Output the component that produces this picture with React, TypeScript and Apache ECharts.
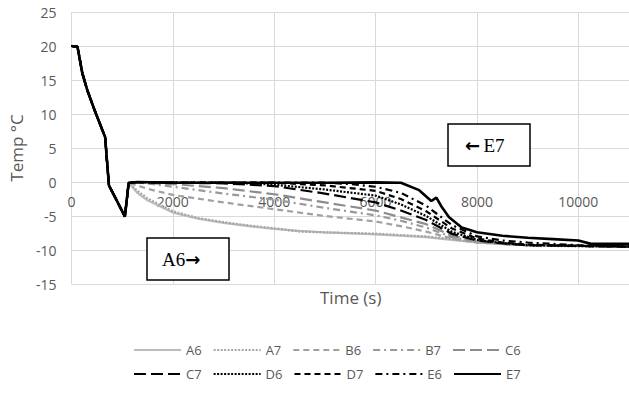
import React, { useEffect, useRef } from "react";
import * as echarts from "echarts";

// Common cooling phase (all locations overlap)
const coolTime = [0, 120, 215, 313, 450, 560, 665, 740, 900, 1055, 1130];
const coolTemp = [20, 19.9, 16, 13.5, 10.7, 8.6, 6.6, -0.5, -2.8, -5.1, -0.1];

const seriesNames = ["A6", "A7", "B6", "B7", "C6", "C7", "D6", "D7", "E6", "E7"];
const xTicks = [0, 2000, 4000, 6000, 8000, 10000];

const A6t = [1300, 1500, 2000, 2500, 3000, 3500, 4000, 4500, 5000, 6000, 7000, 7500, 8000, 8500, 9000, 10000, 11000];
const A6v = [-1.6, -2.7, -4.5, -5.4, -6.0, -6.5, -6.9, -7.2, -7.4, -7.7, -8.1, -8.5, -8.9, -9.1, -9.3, -9.4, -9.5];
const A7t = [1300, 1500, 2000, 2500, 3000, 3500, 4000, 4500, 5000, 6000, 7000, 7500, 8000, 8500, 9000, 10000, 11000];
const A7v = [-1.3, -2.4, -4.3, -5.3, -5.9, -6.4, -6.8, -7.3, -7.4, -7.6, -8.0, -8.4, -8.9, -9.1, -9.3, -9.5, -9.5];
const B6t = [1300, 1500, 2000, 3000, 4000, 5000, 6000, 6500, 7000, 7500, 8000, 8500, 9000, 10000, 11000];
const B6v = [-0.5, -1.0, -1.9, -3.0, -4.0, -5.0, -5.8, -6.5, -7.3, -8.3, -8.9, -9.1, -9.3, -9.4, -9.5];
const B7t = [1300, 1500, 2000, 3000, 4000, 5000, 6000, 6500, 7000, 7500, 8000, 8500, 9000, 10000, 11000];
const B7v = [-0.1, -0.2, -0.7, -1.7, -2.6, -3.8, -4.9, -5.7, -6.7, -8.1, -8.8, -9.1, -9.3, -9.4, -9.5];
const C6t = [1300, 2000, 3000, 4000, 5000, 6000, 6500, 7000, 7500, 8000, 8500, 9000, 10000, 11000];
const C6v = [-0.1, -0.3, -0.9, -1.8, -3.0, -4.2, -5.2, -6.2, -7.9, -8.7, -9.1, -9.3, -9.4, -9.5];
const C7t = [1300, 2000, 3000, 4000, 5000, 6000, 6500, 7000, 7500, 8000, 8500, 9000, 10000, 11000];
const C7v = [0, -0.1, -0.2, -0.6, -1.7, -3.0, -4.2, -5.6, -7.6, -8.6, -9.0, -9.3, -9.4, -9.5];
const D6t = [1300, 2000, 3000, 3500, 4000, 5000, 6000, 6500, 7000, 7500, 8000, 8500, 9000, 10000, 11000];
const D6v = [0, -0.1, -0.1, -0.2, -0.4, -1.1, -2.0, -3.3, -5.0, -7.3, -8.5, -9.0, -9.3, -9.4, -9.5];
const D7t = [1300, 2000, 3000, 4000, 4500, 5000, 6000, 6500, 7000, 7500, 8000, 8500, 9000, 10000, 11000];
const D7v = [0, -0.1, -0.1, -0.1, -0.3, -0.5, -1.3, -2.5, -4.3, -6.8, -8.3, -8.9, -9.2, -9.4, -9.5];
const E6t = [1300, 2000, 3000, 4000, 5000, 5500, 6000, 6500, 7000, 7500, 8000, 8500, 9000, 10000, 11000];
const E6v = [0, -0.1, -0.1, -0.1, -0.1, -0.3, -0.7, -1.6, -3.5, -6.3, -8.0, -8.6, -8.9, -9.3, -9.4];
const E7t = [1300, 2000, 3000, 4000, 5000, 6000, 6500, 6860, 7100, 7200, 7300, 7450, 7700, 8000, 8500, 9000, 9500, 10000, 10250, 11000];
const E7v = [0, -0.1, -0.1, -0.1, -0.1, -0.05, -0.1, -1.2, -2.8, -2.3, -3.6, -5.2, -6.7, -7.4, -7.9, -8.2, -8.4, -8.6, -9.1, -9.1];

const tails: [number[], number[]][] = [
  [A6t, A6v], [A7t, A7v], [B6t, B6v], [B7t, B7v], [C6t, C6v],
  [C7t, C7v], [D6t, D6v], [D7t, D7v], [E6t, E6v], [E7t, E7v],
];

const styles: { color: string; type: any; width: number }[] = [
  { color: "#BDBDBD", type: "solid", width: 2.2 },
  { color: "#A6A6A6", type: [2, 1.5], width: 2.2 },
  { color: "#A0A0A0", type: [6, 4], width: 2.2 },
  { color: "#999999", type: [7, 4, 2, 4], width: 2.2 },
  { color: "#8C8C8C", type: [12, 5], width: 2.2 },
  { color: "#000000", type: [12, 5], width: 2.2 },
  { color: "#000000", type: [2, 1.5], width: 2.2 },
  { color: "#000000", type: [6, 4], width: 2.2 },
  { color: "#000000", type: [7, 4, 2, 4], width: 2.2 },
  { color: "#000000", type: "solid", width: 2.6 },
];

export default function App() {
  const ref = useRef<HTMLDivElement>(null);
  useEffect(() => {
    document.body.style.margin = "0";
    const chart = echarts.init(ref.current!, null, { renderer: "svg" });
    const series = seriesNames.map((name, i) => {
      const [t, v] = tails[i];
      const data: number[][] = coolTime.map((x, k) => [x, coolTemp[k]]);
      t.forEach((x, k) => data.push([x, v[k]]));
      return {
        name,
        type: "line",
        data,
        showSymbol: false,
        symbol: "none",
        z: 2 + i,
        lineStyle: { color: styles[i].color, type: styles[i].type, width: styles[i].width },
        itemStyle: { color: styles[i].color },
      };
    });
    chart.setOption({
      animation: false,
      grid: { left: 69, top: 12, right: -3, bottom: 109, containLabel: false },
      xAxis: {
        type: "value",
        min: 0,
        max: 11000,
        interval: 2000,
        offset: -102,
        axisLine: { onZero: false, lineStyle: { color: "#D9D9D9", width: 1 } },
        axisTick: { show: false },
        splitLine: { show: true, lineStyle: { color: "#D9D9D9", width: 1 } },
        axisLabel: {
          color: "#595959",
          fontFamily: "Open Sans",
          fontSize: 14,
          margin: 12,
          showMaxLabel: false,
          formatter: (v: number) => (xTicks.indexOf(v) >= 0 ? String(v) : ""),
        },
      },
      yAxis: {
        type: "value",
        min: -15,
        max: 25,
        interval: 5,
        name: "Temp °C",
        nameLocation: "middle",
        nameRotate: 90,
        nameGap: 43,
        nameTextStyle: { color: "#595959", fontFamily: "Open Sans", fontSize: 17 },
        axisLine: { show: false },
        axisTick: { show: false },
        splitLine: { show: true, lineStyle: { color: "#D9D9D9", width: 1 } },
        axisLabel: { color: "#595959", fontFamily: "Open Sans", fontSize: 14, margin: 15 },
      },
      legend: {
        data: seriesNames,
        left: 128,
        top: 338.5,
        width: 400,
        itemWidth: 47,
        itemHeight: 15,
        itemGap: 11,
        itemStyle: { opacity: 0 },
        textStyle: { color: "#595959", fontFamily: "Open Sans", fontSize: 13 },
      },
      graphic: [
        {
          type: "text",
          left: 320,
          top: 289,
          style: { text: "Time (s)", fill: "#595959", font: "17px 'Open Sans'" },
        },
        {
          type: "rect",
          shape: { x: 448, y: 124, width: 82, height: 42 },
          style: { fill: "#FFFFFF", stroke: "#000000", lineWidth: 1.5 },
          z: 100,
        },
        {
          type: "text",
          x: 465,
          y: 145,
          style: {
            text: "{a|←} {b|E7}",
            fill: "#000000",
            textVerticalAlign: "middle",
            rich: {
              a: { fontFamily: "DejaVu Sans", fontSize: 18, fontWeight: "bold", fill: "#000" },
              b: { fontFamily: "Liberation Serif", fontSize: 19, fill: "#000" },
            },
          },
          z: 101,
        },
        {
          type: "rect",
          shape: { x: 147, y: 238, width: 82, height: 42 },
          style: { fill: "#FFFFFF", stroke: "#000000", lineWidth: 1.5 },
          z: 100,
        },
        {
          type: "text",
          x: 162,
          y: 259,
          style: {
            text: "{b|A6}{a|→}",
            fill: "#000000",
            textVerticalAlign: "middle",
            rich: {
              a: { fontFamily: "DejaVu Sans", fontSize: 18, fontWeight: "bold", fill: "#000" },
              b: { fontFamily: "Liberation Serif", fontSize: 19, fill: "#000" },
            },
          },
          z: 101,
        },
      ],
      series,
    });
    return () => chart.dispose();
  }, []);
  return <div ref={ref} style={{ width: 629, height: 393 }} />;
}
